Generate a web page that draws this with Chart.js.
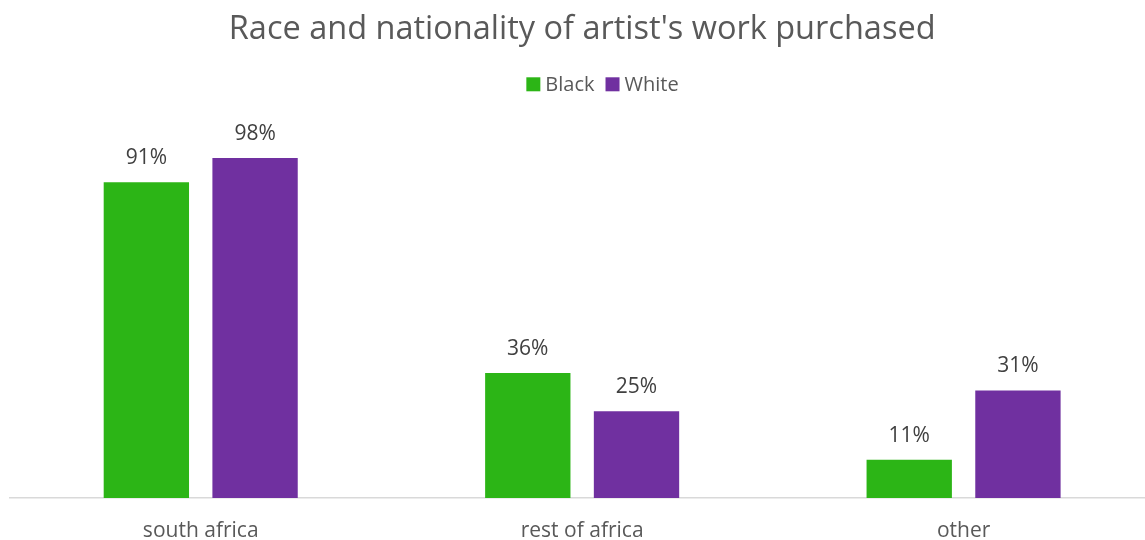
<!DOCTYPE html>
<html>
<head>
<meta charset="utf-8">
<script src="https://cdn.jsdelivr.net/npm/chart.js@4/dist/chart.umd.min.js"></script>
<style>
  html, body { margin: 0; padding: 0; background: #fff; overflow: hidden; }
  #wrap { width: 1165px; height: 540px; }
</style>
</head>
<body>
<div id="wrap"><canvas id="artChart" width="1165" height="540"></canvas></div>
<script>
const categories = ["south africa", "rest of africa", "other"]
const seriesNames = ["Black", "White"]
const blackPct = [91, 36, 11]
const whitePct = [98, 25, 31]

const colors = ["#2cb516", "#7030a0"]
const FONT = "'Open Sans', sans-serif"

// percent labels above every bar
const barLabels = {
  id: "barLabels",
  afterDatasetsDraw(chart) {
    const ctx = chart.ctx
    ctx.save()
    ctx.font = "21px " + FONT
    ctx.fillStyle = "#404040"
    ctx.textAlign = "center"
    ctx.textBaseline = "alphabetic"
    chart.data.datasets.forEach((ds, i) => {
      chart.getDatasetMeta(i).data.forEach((bar, j) => {
        ctx.fillText(ds.data[j] + "%", bar.x, bar.y - 18)
      })
    })
    ctx.restore()
  }
}

// small square legend under the title
const squareLegend = {
  id: "squareLegend",
  afterDraw(chart) {
    const ctx = chart.ctx
    const box = 14, gap = 5, spacing = 11
    ctx.save()
    ctx.font = "20px " + FONT
    ctx.textBaseline = "alphabetic"
    const items = chart.data.datasets.map(ds => ({
      text: ds.label, color: ds.backgroundColor, w: ctx.measureText(ds.label).width
    }))
    let total = 0
    items.forEach((it, i) => { total += box + gap + it.w + (i ? spacing : 0) })
    let x = chart.width / 2 + 20 - total / 2
    items.forEach(it => {
      ctx.fillStyle = it.color
      ctx.fillRect(x, 77.3, box, box)
      ctx.fillStyle = "#595959"
      ctx.fillText(it.text, x + box + gap, 91.3)
      x += box + gap + it.w + spacing
    })
    ctx.restore()
  }
}

new Chart(document.getElementById("artChart"), {
  type: "bar",
  data: {
    labels: categories,
    datasets: [
      { label: seriesNames[0], data: blackPct, backgroundColor: colors[0] },
      { label: seriesNames[1], data: whitePct, backgroundColor: colors[1] }
    ]
  },
  options: {
    responsive: false,
    animation: false,
    events: [],
    datasets: {
      bar: { categoryPercentage: 0.57, barPercentage: 0.785 }
    },
    layout: { padding: { left: 10, right: 10.7, top: 0, bottom: 0 } },
    plugins: {
      legend: { display: false },
      tooltip: { enabled: false },
      title: {
        display: true,
        text: "Race and nationality of artist's work purchased",
        color: "#595959",
        font: { family: FONT, size: 32.5, weight: "normal" },
        padding: { top: 10.5, bottom: 101.5 }
      }
    },
    scales: {
      x: {
        grid: { display: false, drawTicks: false },
        border: { display: true, color: "#d9d9d9", width: 1.5 },
        ticks: {
          color: "#595959",
          font: { family: FONT, size: 21 },
          padding: 20.5
        },
        afterFit(scale) { scale.height = 42 }
      },
      y: {
        display: false,
        min: 0,
        max: 100
      }
    }
  },
  plugins: [barLabels, squareLegend]
})
</script>
</body>
</html>
